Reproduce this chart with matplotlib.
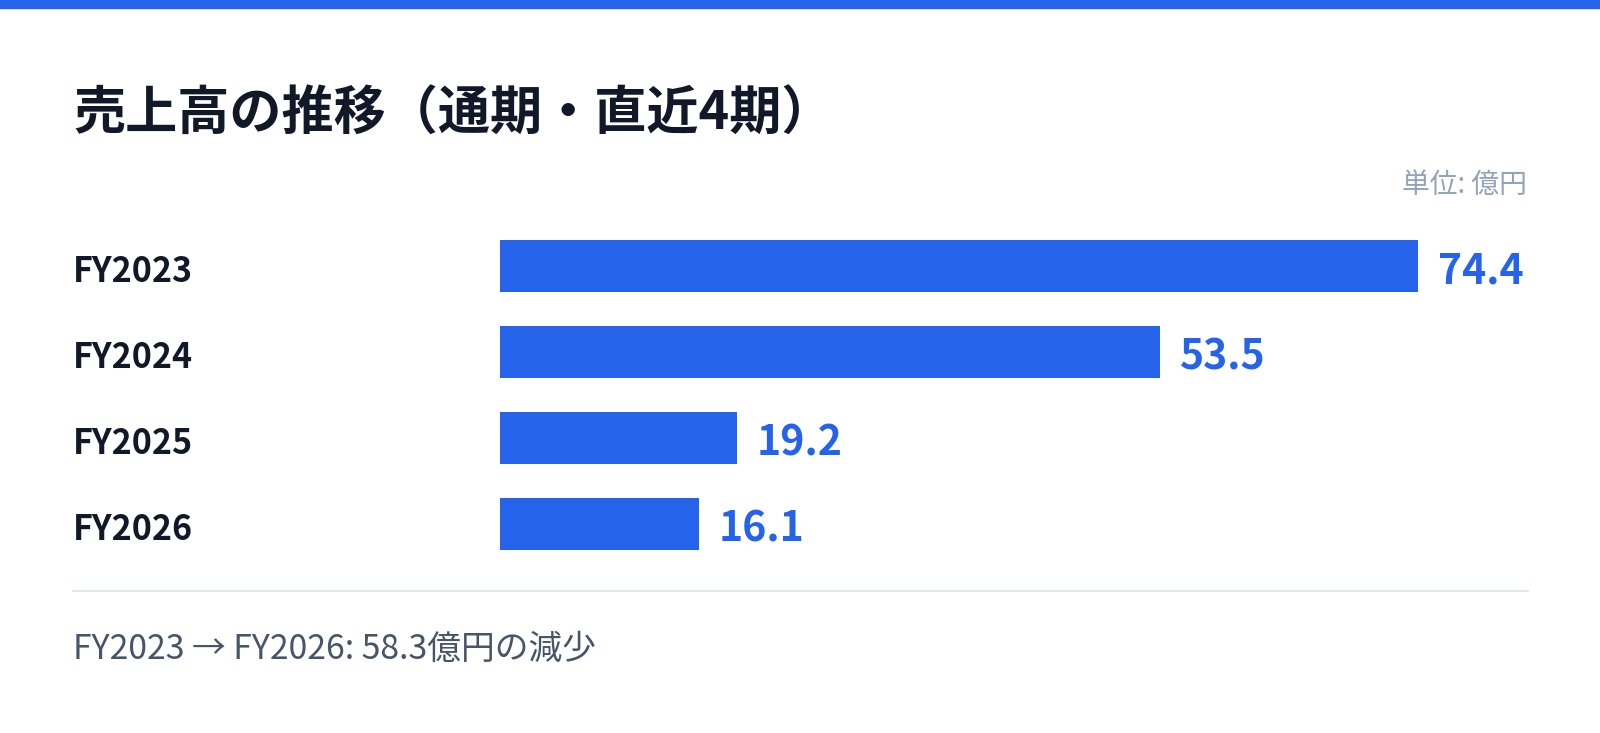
import matplotlib
matplotlib.use("Agg")
import matplotlib.pyplot as plt
from matplotlib.lines import Line2D
from matplotlib.patches import Rectangle

plt.rcParams['font.family'] = ['Noto Sans CJK JP', 'DejaVu Sans']

# Data
YEARS = ['FY2023', 'FY2024', 'FY2025', 'FY2026']
SALES = [74.4, 53.5, 19.2, 16.1]
TITLE = '売上高の推移（通期・直近4期）'
UNIT = '単位: 億円'
FOOTER = 'FY2023 → FY2026: 58.3億円の減少'

BLUE = '#2563EB'
DARK = '#111827'

W, H = 1600, 733
fig = plt.figure(figsize=(W / 100, H / 100), dpi=100)
fig.patch.set_facecolor('white')

# top accent band
fig.patches.append(Rectangle((0, 1 - 8 / H), 1, 8 / H, transform=fig.transFigure,
                             color=BLUE, zorder=0))

fig.text(73 / W, 1 - 114 / H, TITLE, fontsize=37.5, fontweight='bold',
         color=DARK, ha='left', va='center')
fig.text(1527 / W, 1 - 185 / H, UNIT, fontsize=20, color='#94A3B8',
         ha='right', va='center')

# bar area: x from 500px to 1528px, 12.34 px per unit
ax_left, ax_right = 500, 1528
y_top, y_bot = 223, 567
ax = fig.add_axes([ax_left / W, 1 - y_bot / H, (ax_right - ax_left) / W, (y_bot - y_top) / H])
ax.set_xlim(0, (ax_right - ax_left) / 12.34)
ax.set_ylim(len(YEARS) - 0.5, -0.5)
ax.axis('off')

pos = list(range(len(YEARS)))
ax.barh(pos, SALES, height=0.605, color=BLUE)

# value labels (offsets in points: 1px = 0.72pt)
for i, v in zip(pos, SALES):
    ax.annotate(f'{v:.1f}', (v, i), xytext=(14.4, -4.3), textcoords='offset points',
                ha='left', va='center', fontsize=29.5, fontweight='bold', color=BLUE)

# category labels, left aligned at the page margin
for i, name in zip(pos, YEARS):
    ax.annotate(name, (73 / W, i), xycoords=('figure fraction', 'data'),
                xytext=(0, -4.3), textcoords='offset points', ha='left', va='center',
                fontsize=24.5, fontweight='bold', color=DARK, annotation_clip=False)

# separator and footer
fig.lines.append(Line2D([73 / W, 1528 / W], [1 - 591 / H, 1 - 591 / H],
                        transform=fig.transFigure, color='#E2E8F0', lw=1.5))
fig.text(73 / W, 1 - 649 / H, FOOTER, fontsize=24.3, color='#475569',
         ha='left', va='center')

fig.savefig('out.png', dpi=100)
